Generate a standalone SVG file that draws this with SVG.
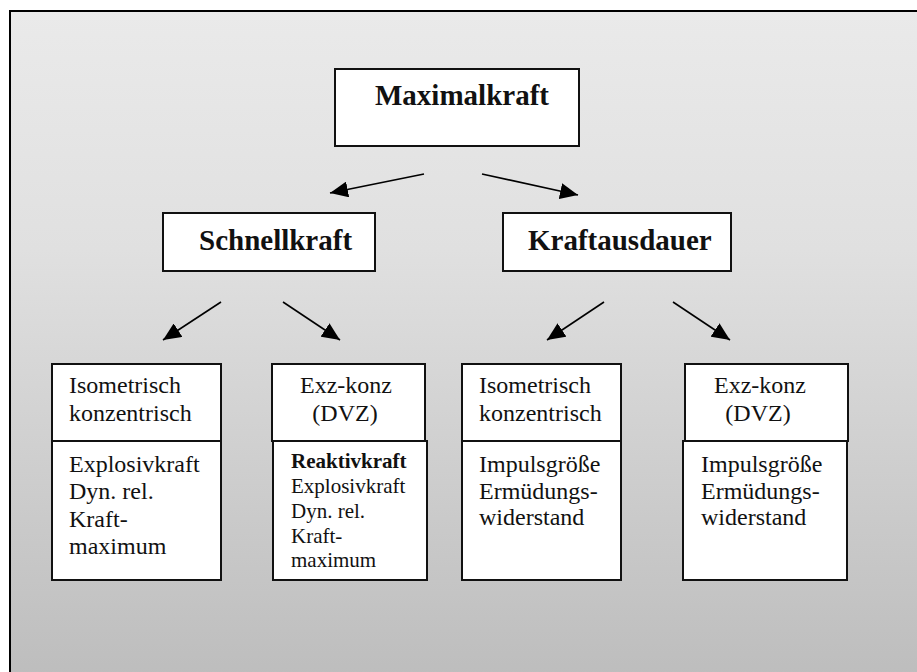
<svg xmlns="http://www.w3.org/2000/svg" width="917" height="672" viewBox="0 0 917 672">
  <defs>
    <linearGradient id="bg" x1="0" y1="0" x2="0" y2="1">
      <stop offset="0" stop-color="#eaeaea"/>
      <stop offset="0.35" stop-color="#e0e0e0"/>
      <stop offset="1" stop-color="#bcbcbc"/>
    </linearGradient>
    <marker id="arrow" markerUnits="userSpaceOnUse" markerWidth="20" markerHeight="16" refX="18" refY="8" orient="auto">
      <path d="M0,0 L18,8 L0,16 Z" fill="#000"/>
    </marker>
  </defs>
  <style>
    text { font-family: "Liberation Serif", "Tinos", "Times New Roman", "DejaVu Serif", serif; fill: #111; }
    .box { fill: #fff; stroke: #111; stroke-width: 2; }
    .head { font-weight: bold; font-size: 29px; }
    .t { font-size: 24px; }
    .s { font-size: 21px; }
    .b { font-weight: bold; }
    .conn { stroke: #000; stroke-width: 1.6; fill: none; marker-end: url(#arrow); }
  </style>

  <rect width="917" height="672" fill="#fff"/>
  <rect x="10" y="11" width="920" height="680" fill="url(#bg)" stroke="#000" stroke-width="2"/>

  <g id="maximalkraft">
    <rect class="box" x="335" y="69" width="244" height="77"/>
    <text class="head" x="375" y="105">Maximalkraft</text>
  </g>

  <g id="schnellkraft">
    <rect class="box" x="163" y="213" width="212" height="58"/>
    <text class="head" x="199" y="250">Schnellkraft</text>
  </g>

  <g id="kraftausdauer">
    <rect class="box" x="503" y="213" width="228" height="58"/>
    <text class="head" x="528" y="250">Kraftausdauer</text>
  </g>

  <g id="sk-isometrisch">
    <rect class="box" x="52" y="364" width="169" height="77"/>
    <text class="t" x="69" y="393">Isometrisch</text>
    <text class="t" x="69" y="421">konzentrisch</text>
    <rect class="box" x="52" y="441" width="169" height="139"/>
    <text class="t" x="69" y="472">Explosivkraft</text>
    <text class="t" x="69" y="499">Dyn. rel.</text>
    <text class="t" x="69" y="527">Kraft-</text>
    <text class="t" x="69" y="554">maximum</text>
  </g>

  <g id="sk-exzkonz">
    <rect class="box" x="272" y="364" width="153" height="77"/>
    <text class="t" x="346" y="393" text-anchor="middle">Exz-konz</text>
    <text class="t" x="345" y="421" text-anchor="middle">(DVZ)</text>
    <rect class="box" x="273" y="441" width="154" height="139"/>
    <text class="s b" x="291" y="468">Reaktivkraft</text>
    <text class="s" x="291" y="493">Explosivkraft</text>
    <text class="s" x="291" y="518">Dyn. rel.</text>
    <text class="s" x="291" y="543">Kraft-</text>
    <text class="s" x="291" y="567">maximum</text>
  </g>

  <g id="ka-isometrisch">
    <rect class="box" x="462" y="364" width="159" height="77"/>
    <text class="t" x="479" y="393">Isometrisch</text>
    <text class="t" x="479" y="421">konzentrisch</text>
    <rect class="box" x="462" y="441" width="159" height="139"/>
    <text class="t" x="479" y="472">Impulsgröße</text>
    <text class="t" x="479" y="499">Ermüdungs-</text>
    <text class="t" x="479" y="525">widerstand</text>
  </g>

  <g id="ka-exzkonz">
    <rect class="box" x="685" y="364" width="163" height="77"/>
    <text class="t" x="760" y="393" text-anchor="middle">Exz-konz</text>
    <text class="t" x="758" y="421" text-anchor="middle">(DVZ)</text>
    <rect class="box" x="683" y="441" width="164" height="139"/>
    <text class="t" x="701" y="472">Impulsgröße</text>
    <text class="t" x="701" y="499">Ermüdungs-</text>
    <text class="t" x="701" y="525">widerstand</text>
  </g>

  <g id="connectors">
    <path class="conn" d="M424,174 L330,193"/>
    <path class="conn" d="M482,174 L578,195"/>
    <path class="conn" d="M221,302 L163,340"/>
    <path class="conn" d="M283,302 L340,340"/>
    <path class="conn" d="M604,302 L547,340"/>
    <path class="conn" d="M673,302 L730,340"/>
  </g>
</svg>
